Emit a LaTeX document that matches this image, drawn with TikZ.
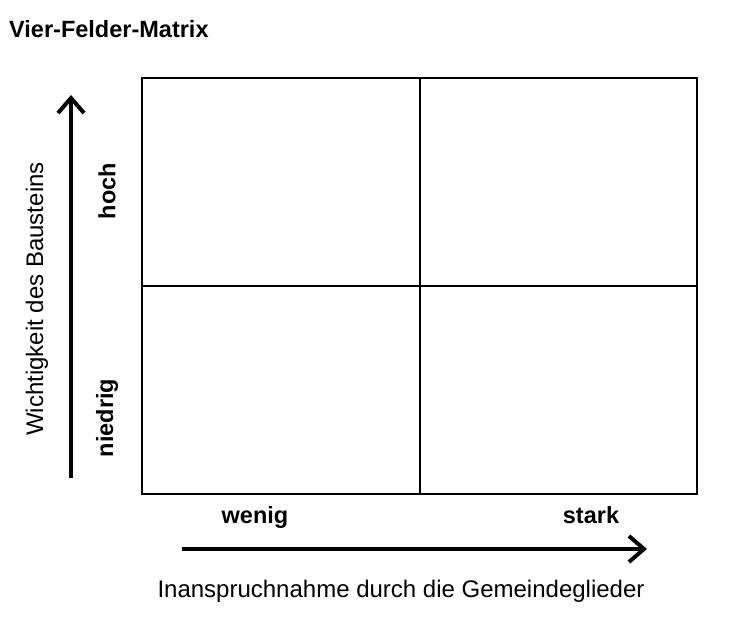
\documentclass[tikz,border=0pt]{standalone}
\usepackage{fontspec}
\setmainfont{Liberation Sans}
\usetikzlibrary{arrows.meta}
\begin{document}
\begin{tikzpicture}[x=1pt,y=-1pt,
  lbl/.style={font=\fontsize{24}{28}\selectfont, inner sep=0pt},
  bold/.style={lbl, font=\fontsize{23.5}{28}\selectfont\bfseries},
  axis/.style={line width=4pt, -{Straight Barb[length=15pt,width=26pt]}}]
\useasboundingbox (0,0) rectangle (751,617);
\node[bold, anchor=west] at (9, 29) (title) {Vier-Felder-Matrix};
% the four fields
\node[draw, line width=1.6pt, minimum width=555pt, minimum height=416pt, inner sep=0pt] at (419.5, 286) (box) {};
\coordinate (top) at (420, 78);
\coordinate (bottom) at (420, 494);
\coordinate (left) at (142, 286);
\coordinate (right) at (697, 286);
\draw[line width=1.6pt] (top) -- (bottom);
\draw[line width=1.6pt] (left) -- (right);
% vertical axis
\coordinate (ystart) at (71, 478);
\coordinate (yend) at (71, 95);
\draw[axis] (ystart) -- (yend);
\node[lbl, rotate=90] at (37, 299) (wicht) {Wichtigkeit des Bausteins};
\node[bold, rotate=90] at (107, 191) (hoch) {hoch};
\node[bold, rotate=90] at (107, 418) (niedrig) {niedrig};
% horizontal axis
\coordinate (xstart) at (182, 549);
\coordinate (xend) at (647, 549);
\draw[axis] (xstart) -- (xend);
\node[bold, anchor=base] at (255, 523) (wenig) {wenig};
\node[bold, anchor=base] at (591, 523) (stark) {stark};
\node[lbl, anchor=base] at (401, 597) (inan) {Inanspruchnahme\ durch\ die\ Gemeindeglieder};
\end{tikzpicture}
\end{document}
